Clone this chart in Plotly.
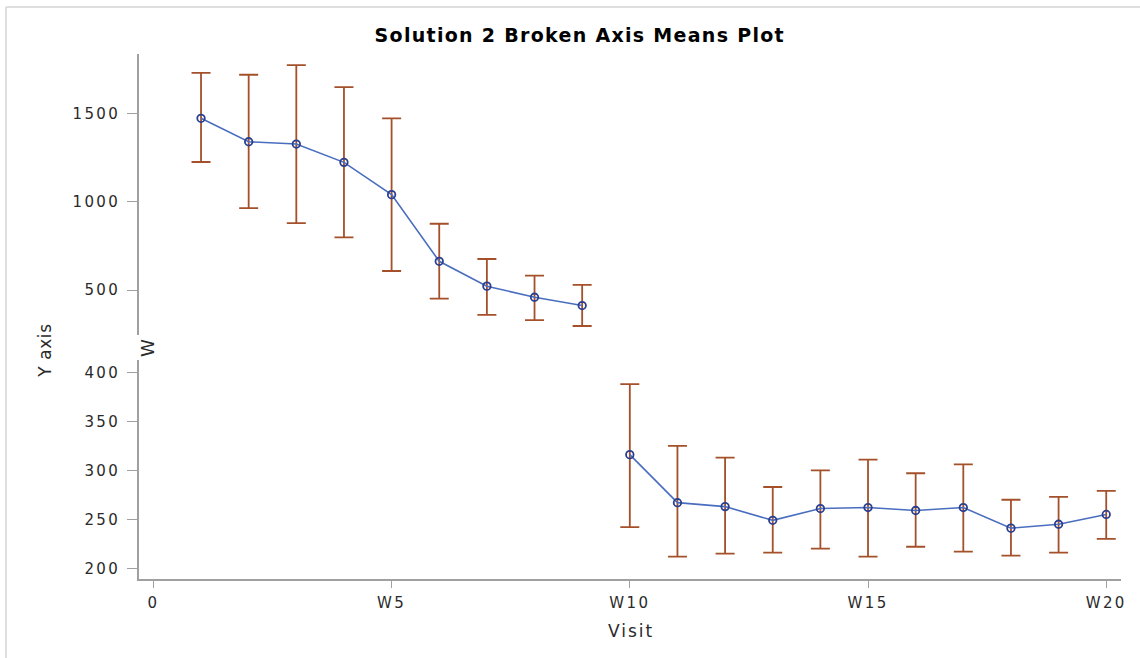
import plotly.graph_objects as go

# ---------------- data ----------------
visits = list(range(1, 21))
means = [1474, 1341, 1328, 1224, 1041, 663, 522, 459, 412,
         316, 267, 263, 249, 261, 262, 259, 262, 241, 245, 255]
upper = [1732, 1721, 1776, 1651, 1474, 876, 676, 582, 529,
         388, 325, 313, 283, 300, 311, 297, 306, 270, 273, 279]
lower = [1226, 964, 879, 799, 608, 451, 359, 329, 296,
         242, 212, 215, 216, 220, 212, 222, 217, 213, 216, 230]
break_after = 9  # visits 1..9 on upper segment, 10..20 on lower segment

x_tickvals = [0, 5, 10, 15, 20]
x_ticktext = ["0", "W5", "W10", "W15", "W20"]
y_low_ticks = [200, 250, 300, 350, 400]
y_high_ticks = [500, 1000, 1500]

title_text = "Solution 2 Broken Axis Means Plot"
x_title = "Visit"
y_title = "Y axis"

# ---------------- layout geometry (pixels) ----------------
W, H = 1140, 658
L, R, T, B = 139, 1121, 54, 579
pw, ph = R - L, B - T


def px_x(p):
    return (p - L) / pw


def px_y(p):
    return (B - p) / ph


line_color = "#4A6EBF"
marker_color = "#2B3F8F"
err_color = "#A4502A"
axis_color = "#A0A0A0"
text_color = "#2A2A2A"
font_family = "DejaVu Sans"

fig = go.Figure()

segments = [
    ([v for v in visits if v <= break_after], "y2"),
    ([v for v in visits if v > break_after], "y"),
]
for seg_x, ax in segments:
    idx = [visits.index(v) for v in seg_x]
    m = [means[i] for i in idx]
    up = [upper[i] - means[i] for i in idx]
    dn = [means[i] - lower[i] for i in idx]
    fig.add_trace(go.Scatter(
        x=seg_x, y=m, yaxis=ax, mode="lines+markers",
        line=dict(color=line_color, width=1.6),
        marker=dict(symbol="circle-open", size=7.5, color=marker_color,
                    line=dict(width=1.8, color=marker_color)),
        error_y=dict(type="data", symmetric=False, array=up, arrayminus=dn,
                     color=err_color, thickness=1.8, width=9.5),
        showlegend=False,
    ))

axis_common = dict(showline=True, linecolor=axis_color, linewidth=1.5,
                   ticks="outside", tickcolor=axis_color, tickwidth=1.2,
                   showgrid=False, zeroline=False,
                   tickfont=dict(family=font_family, size=15, color=text_color))

fig.update_layout(
    width=W, height=H, autosize=False,
    margin=dict(l=L, r=W - R, t=T, b=H - B, pad=0),
    paper_bgcolor="white", plot_bgcolor="white",
    xaxis=dict(domain=[0, 1], range=[-0.302, 20.31], anchor="y",
               tickmode="array", tickvals=x_tickvals, ticktext=x_ticktext,
               ticklen=7, ticklabelstandoff=2, **axis_common),
    yaxis=dict(domain=[0, px_y(360)], range=[189.1, 412.6], anchor="x",
               tickmode="array", tickvals=y_low_ticks, ticklen=10,
               ticklabelstandoff=4, **axis_common),
    yaxis2=dict(domain=[px_y(335), 1], range=[245, 1838.6], anchor="x",
                tickmode="array", tickvals=y_high_ticks, ticklen=10,
                ticklabelstandoff=4, **axis_common),
    annotations=[
        dict(text="<b>" + title_text + "</b>", xref="paper", yref="paper",
             x=px_x(580), y=px_y(35), xanchor="center", yanchor="middle",
             showarrow=False, font=dict(family=font_family, size=19, color="black")),
        dict(text=x_title, xref="paper", yref="paper",
             x=px_x(631), y=px_y(631), xanchor="center", yanchor="middle",
             showarrow=False, font=dict(family=font_family, size=17, color=text_color)),
        dict(text=y_title, xref="paper", yref="paper", textangle=-90,
             x=px_x(45), y=px_y(351), xanchor="center", yanchor="middle",
             showarrow=False, font=dict(family=font_family, size=17, color=text_color)),
        dict(text="W", xref="paper", yref="paper", textangle=-90,
             x=px_x(147), y=px_y(348), xanchor="center", yanchor="middle",
             showarrow=False, font=dict(family=font_family, size=18, color=text_color)),
    ],
    shapes=[
        dict(type="line", xref="paper", yref="paper",
             x0=px_x(6), x1=px_x(6), y0=px_y(7), y1=px_y(H),
             line=dict(color="#D4D4D4", width=1.5)),
        dict(type="line", xref="paper", yref="paper",
             x0=px_x(6), x1=px_x(W), y0=px_y(7), y1=px_y(7),
             line=dict(color="#D4D4D4", width=1.5)),
    ],
)

# widen the lettering a little, as in the reference (its text is drawn stretched)
post_js = """
var gd = document.getElementById('{plot_id}');
gd.querySelectorAll('.xtick text, .ytick text, .y2tick text').forEach(function(t){
    t.style.letterSpacing = '2.4px';
});
gd.querySelectorAll('.annotation-text').forEach(function(t){
    var s = t.textContent;
    if (s.indexOf('Solution') === 0) { t.style.letterSpacing = '1.3px'; }
    else if (s === 'Visit') { t.style.letterSpacing = '2px'; }
    else if (s === 'Y axis') { t.style.letterSpacing = '0.6px'; }
});
"""

fig.write_html("out.html", post_script=post_js)
